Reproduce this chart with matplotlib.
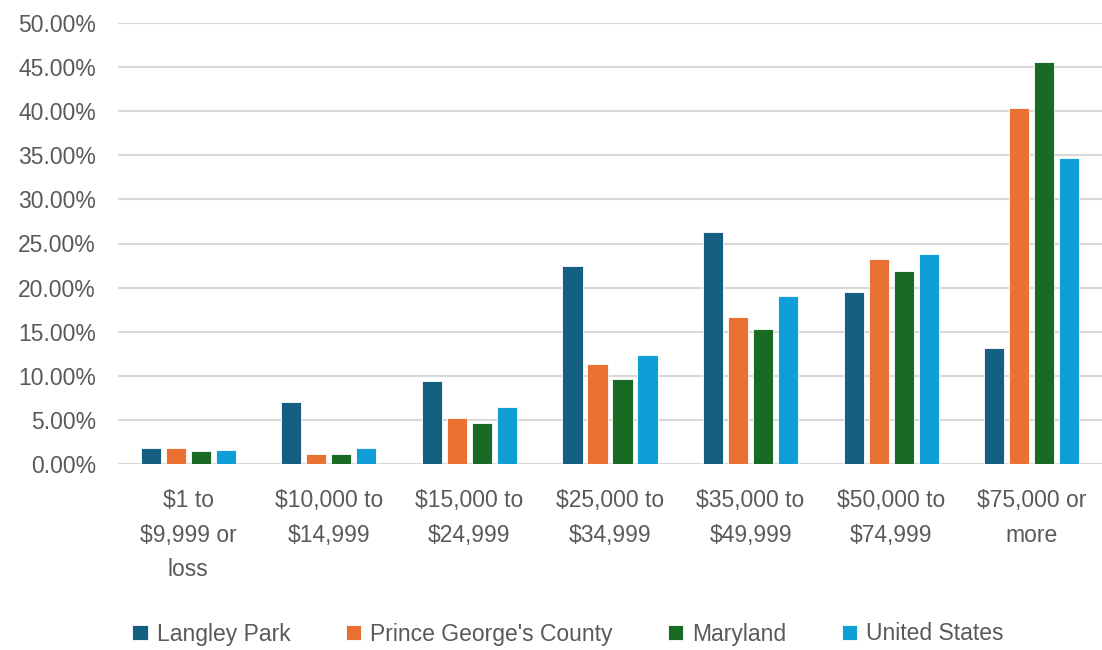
import numpy as np
import matplotlib
matplotlib.use('Agg')
import matplotlib.pyplot as plt
from matplotlib.ticker import PercentFormatter

# Household income distribution (share of households)
categories = ['\\$1 to\n\\$9,999 or\nloss', '\\$10,000 to\n\\$14,999', '\\$15,000 to\n\\$24,999',
              '\\$25,000 to\n\\$34,999', '\\$35,000 to\n\\$49,999', '\\$50,000 to\n\\$74,999',
              '\\$75,000 or\nmore']
langley_park = [1.8, 7.0, 9.4, 22.4, 26.3, 19.5, 13.2]
prince_georges = [1.8, 1.1, 5.25, 11.3, 16.7, 23.25, 40.4]
maryland = [1.45, 1.1, 4.7, 9.6, 15.3, 21.85, 45.55]
united_states = [1.6, 1.8, 6.45, 12.4, 19.1, 23.8, 34.7]

series_names = ['Langley Park', "Prince George's County", 'Maryland', 'United States']
colors = ['#156082', '#E97132', '#196B24', '#0F9ED5']

plt.rcParams['font.family'] = ['Liberation Sans', 'DejaVu Sans']
fs = 16.5
grey = '#595959'

fig = plt.figure(figsize=(11.02, 6.5), dpi=100)
ax = fig.add_axes([118/1102, 1-464/650, 1-118/1102, (464-23)/650])

x = np.arange(len(categories))
width = 0.143
step = 0.178
data = [langley_park, prince_georges, maryland, united_states]
for i, (vals, name, c) in enumerate(zip(data, series_names, colors)):
    ax.bar(x + (i - 1.5)*step, vals, width, color=c, label=name,
           edgecolor='white', linewidth=0.6, zorder=3)

ax.set_xlim(-0.5, 6.5)
ax.set_ylim(0, 50)
ax.set_yticks(np.arange(0, 51, 5))
ax.yaxis.set_major_formatter(PercentFormatter(decimals=2))
ax.grid(axis='y', color='#D9D9D9', linewidth=1.5, zorder=0)
for s in ax.spines.values():
    s.set_visible(False)
ax.tick_params(axis='both', length=0, labelsize=fs, labelcolor=grey)
ax.tick_params(axis='y', pad=16)
ax.tick_params(axis='x', pad=18)
ax.set_xticks(x)
ax.set_xticklabels(categories, linespacing=1.65)

handles, labels = ax.get_legend_handles_labels()
leg = fig.legend(handles, labels, loc='center', bbox_to_anchor=(568/1102, 1-634/650),
                 ncol=4, frameon=False, fontsize=fs, handlelength=0.68, handleheight=0.68,
                 handletextpad=0.4, columnspacing=2.4, labelcolor=grey)

fig.savefig('out.png', dpi=100)
